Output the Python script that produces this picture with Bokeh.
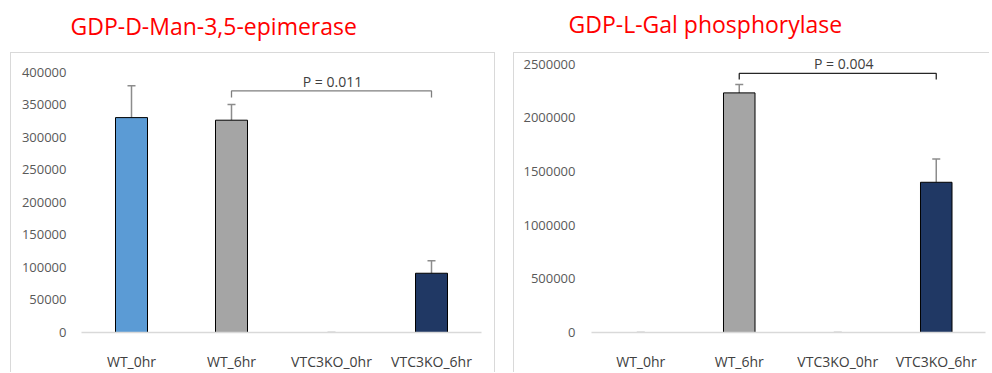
from bokeh.plotting import figure
from bokeh.layouts import row, column
from bokeh.models import (ColumnDataSource, Range1d, FactorRange, SingleIntervalTicker,
                          NumeralTickFormatter, Whisker, TeeHead)
from bokeh.core.properties import value
from bokeh.embed import file_html
from bokeh.resources import INLINE

# Sample groups shared by both panels
groups = ["WT_0hr", "WT_6hr", "VTC3KO_0hr", "VTC3KO_6hr"]
bar_colors = ["#5B9BD5", "#A5A5A5", "#4472C4", "#203864"]
compared = ("WT_6hr", "VTC3KO_6hr")

# GDP-D-mannose 3,5-epimerase
gme_title = "GDP-D-Man-3,5-epimerase"
gme_values = [330000, 326000, 0, 91000]
gme_errors = [49000, 24000, 0, 19000]
gme_pvalue = "P = 0.011"

# GDP-L-galactose phosphorylase
ggp_title = "GDP-L-Gal phosphorylase"
ggp_values = [0, 2233000, 0, 1400000]
ggp_errors = [0, 78000, 0, 218000]
ggp_pvalue = "P = 0.004"

FONT = "Open Sans"
WIDTH, HEAD_H = 992, 52
CHART_BORDER = "1px solid #D9D9D9"

# Red headings above the two chart boxes (the strip's ranges are in pixels)
head = figure(width=WIDTH, height=HEAD_H, x_range=Range1d(0, WIDTH),
              y_range=Range1d(HEAD_H, 0), x_axis_type=None, y_axis_type=None,
              title=None, min_border_left=0, min_border_right=0,
              min_border_top=0, min_border_bottom=0,
              toolbar_location=None, output_backend="svg")
head.outline_line_color = None
head.text(x=[70, 568], y=[25, 23], text=[gme_title, ggp_title],
          text_baseline="alphabetic", text_align="left", text_font=value(FONT),
          text_font_size="23px", text_color="#FF0000")


def chart(values, errors, pvalue, *, width, height, margin_left, borders, y_end,
          tick_step, mb, bracket_top, bracket_drop, bracket_color, p_y, p_dx,
          ylab_standoff):
    p = figure(x_range=FactorRange(*groups), y_range=Range1d(0, y_end),
               width=width, height=height, output_backend="svg",
               toolbar_location=None, min_border_left=mb[0], min_border_right=mb[1],
               min_border_top=mb[2], min_border_bottom=mb[3],
               margin=(0, 0, 0, margin_left), styles=borders,
               background_fill_color="white", border_fill_color="white")
    p.outline_line_color = None
    p.xgrid.grid_line_color = None
    p.ygrid.grid_line_color = None

    # bars (groups with no signal have no visible bar)
    bars = ColumnDataSource(dict(
        group=[g for g, v in zip(groups, values) if v > 0],
        value=[v for v in values if v > 0],
        color=[c for c, v in zip(bar_colors, values) if v > 0],
    ))
    p.vbar(x="group", top="value", width=0.32, source=bars,
           fill_color="color", line_color="black", line_width=1)

    # upper error bars
    err = ColumnDataSource(dict(
        group=groups, value=values,
        upper=[v + e for v, e in zip(values, errors)],
    ))
    p.add_layout(Whisker(base="group", lower="value", upper="upper",
                         dimension="height", source=err,
                         line_color="#8C8C8C", line_width=1.5,
                         upper_head=TeeHead(size=8, line_color="#8C8C8C", line_width=1.5),
                         lower_head=None))

    # significance bracket between the two 6 hr groups
    a, b = compared
    p.line(x=[a, a, b, b], y=[bracket_drop, bracket_top, bracket_top, bracket_drop],
           line_color=bracket_color, line_width=1.3)
    mid = groups[(groups.index(a) + groups.index(b)) // 2]
    p.text(x=[mid], y=[p_y], text=[pvalue], x_offset=p_dx,
           text_align="center", text_baseline="middle",
           text_font=value(FONT), text_font_size="14px", text_color="#404040")

    # axes
    p.yaxis.ticker = SingleIntervalTicker(interval=tick_step)
    p.yaxis.formatter = NumeralTickFormatter(format="0")
    p.yaxis.axis_line_color = None
    p.yaxis.major_tick_line_color = None
    p.yaxis.minor_tick_line_color = None
    p.yaxis.major_label_standoff = ylab_standoff
    p.yaxis.major_label_text_font = FONT
    p.yaxis.major_label_text_font_size = "13px"
    p.yaxis.major_label_text_color = "#595959"

    p.xaxis.axis_line_color = "#D9D9D9"
    p.xaxis.axis_line_width = 1.5
    p.xaxis.major_tick_line_color = None
    p.xaxis.minor_tick_line_color = None
    p.xaxis.major_label_standoff = 13
    p.xaxis.major_label_text_font = FONT
    p.xaxis.major_label_text_font_size = "14px"
    p.xaxis.major_label_text_color = "#404040"
    return p


left = chart(gme_values, gme_errors, gme_pvalue, width=485, height=320, margin_left=10,
             borders={"border-left": CHART_BORDER, "border-top": CHART_BORDER,
                      "border-right": CHART_BORDER},
             y_end=410000, tick_step=50000, mb=(70, 15, 12, 36),
             bracket_top=371000, bracket_drop=361000, bracket_color="#7F7F7F",
             p_y=386000, p_dx=1, ylab_standoff=9)

right = chart(ggp_values, ggp_errors, ggp_pvalue, width=476, height=320, margin_left=18,
              borders={"border-left": CHART_BORDER, "border-top": CHART_BORDER},
              y_end=2600000, tick_step=500000, mb=(77, 5, 0, 40),
              bracket_top=2414000, bracket_drop=2358000, bracket_color="#262626",
              p_y=2510000, p_dx=6, ylab_standoff=10)

# each chart sits in its own column so the two frames keep their own borders
layout = column(head, row(column(left), column(right), spacing=0), spacing=0)
open("out.html", "w").write(file_html(layout, INLINE))
